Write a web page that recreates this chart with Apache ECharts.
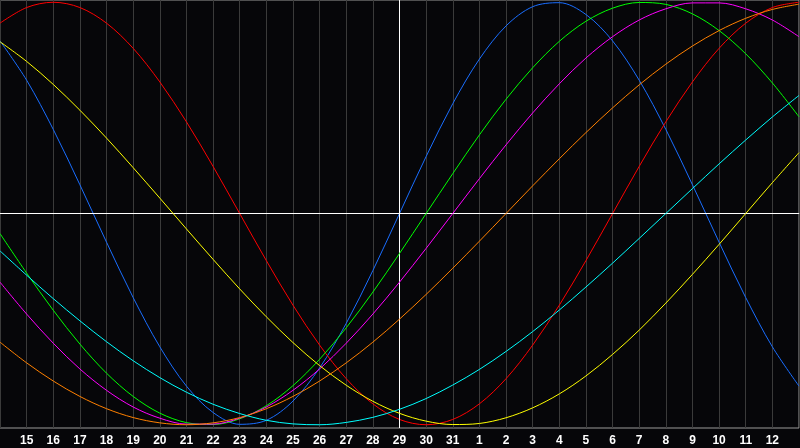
<!DOCTYPE html>
<html>
<head>
<meta charset="utf-8">
<script src="https://cdn.jsdelivr.net/npm/echarts@6/dist/echarts.min.js"></script>
<style>
html,body{margin:0;padding:0;background:#060609;}
#c{width:800px;height:448px;}
</style>
</head>
<body>
<div id="c"></div>
<script>
var days = ['14','15','16','17','18','19','20','21','22','23','24','25','26','27','28','29','30','31','1','2','3','4','5','6','7','8','9','10','11','12','13'];
var todayLabel = '29';

var physical = [0.817,0.631,0.398,0.136,-0.136,-0.398,-0.631,-0.817,-0.942,-0.998,-0.979,-0.888,-0.731,-0.520,-0.270,0,0.270,0.520,0.731,0.888,0.979,0.998,0.942,0.817,0.631,0.398,0.136,-0.136,-0.398,-0.631,-0.817];
var emotional = [0.901,0.975,1,0.975,0.901,0.782,0.623,0.434,0.223,0,-0.223,-0.434,-0.623,-0.782,-0.901,-0.975,-1,-0.975,-0.901,-0.782,-0.623,-0.434,-0.223,0,0.223,0.434,0.623,0.782,0.901,0.975,1];
var intellectual = [-0.095,-0.282,-0.458,-0.618,-0.756,-0.866,-0.945,-0.990,-0.999,-0.972,-0.910,-0.815,-0.690,-0.541,-0.372,-0.189,0,0.189,0.372,0.541,0.690,0.815,0.910,0.972,0.999,0.990,0.945,0.866,0.756,0.618,0.458];
var intuitive = [-0.325,-0.476,-0.614,-0.736,-0.837,-0.916,-0.969,-0.997,-0.997,-0.969,-0.916,-0.837,-0.736,-0.614,-0.476,-0.325,-0.165,0,0.165,0.325,0.476,0.614,0.736,0.837,0.916,0.969,0.997,0.997,0.969,0.916,0.837];
var aesthetic = [0.813,0.720,0.611,0.489,0.357,0.217,0.073,-0.073,-0.217,-0.357,-0.489,-0.611,-0.720,-0.813,-0.889,-0.946,-0.983,-0.999,-0.994,-0.967,-0.920,-0.854,-0.769,-0.667,-0.552,-0.424,-0.288,-0.146,0,0.146,0.288];
var awareness = [-0.609,-0.707,-0.793,-0.866,-0.924,-0.966,-0.991,-1,-0.991,-0.966,-0.924,-0.866,-0.793,-0.707,-0.609,-0.5,-0.383,-0.259,-0.131,0,0.131,0.259,0.383,0.5,0.609,0.707,0.793,0.866,0.924,0.966,0.991];
var spiritual = [-0.177,-0.292,-0.403,-0.508,-0.607,-0.697,-0.777,-0.846,-0.903,-0.947,-0.979,-0.996,-1.000,-0.989,-0.965,-0.927,-0.876,-0.812,-0.738,-0.653,-0.559,-0.457,-0.348,-0.235,-0.118,0,0.118,0.235,0.348,0.457,0.559];

var seriesDefs = [
  {name:'Physical', data:physical, color:'#1a6eff'},
  {name:'Emotional', data:emotional, color:'#ff0000'},
  {name:'Intellectual', data:intellectual, color:'#00ff00'},
  {name:'Intuitive', data:intuitive, color:'#ff00ff'},
  {name:'Aesthetic', data:aesthetic, color:'#ffff00'},
  {name:'Awareness', data:awareness, color:'#ff8000'},
  {name:'Spiritual', data:spiritual, color:'#00ffff'}
];

var series = seriesDefs.map(function(s, idx){
  return {
    name: s.name, type:'line', data:s.data, smooth:0.33, showSymbol:false, symbol:'none',
    lineStyle:{color:s.color, width:1}, itemStyle:{color:s.color}, z: 3 + idx, silent:true
  };
});
series.unshift({
  name:'ref', type:'line', data:[], silent:true, z:2,
  markLine:{
    silent:true, symbol:'none', animation:false,
    label:{show:false},
    lineStyle:{color:'#ffffff', width:1, type:'solid'},
    data:[{xAxis: todayLabel}, {yAxis: 0}]
  }
});

var lastIdx = days.length - 1;
var chart = echarts.init(document.getElementById('c'), null, {renderer:'canvas'});
chart.setOption({
  backgroundColor:'#060609',
  animation:false,
  grid:{left:0, right:1, top:0, bottom:20, show:true, borderColor:'#9a9a9a', borderWidth:1, backgroundColor:'transparent'},
  xAxis:{
    type:'category', data:days, boundaryGap:false,
    axisLine:{show:true, lineStyle:{color:'#9a9a9a'}},
    axisTick:{show:false},
    axisLabel:{
      show:true, color:'#ffffff', fontWeight:'bold', fontSize:12, fontFamily:'Liberation Sans', margin:7,
      interval:function(index){ return index !== 0 && index !== lastIdx; }
    },
    splitLine:{show:true, interval:0, lineStyle:{color:'#3a3a3a', width:1}}
  },
  yAxis:{
    type:'value', min:-1.0154, max:1.0107,
    axisLine:{show:false}, axisTick:{show:false}, axisLabel:{show:false}, splitLine:{show:false}
  },
  series:series
});
</script>
</body>
</html>
